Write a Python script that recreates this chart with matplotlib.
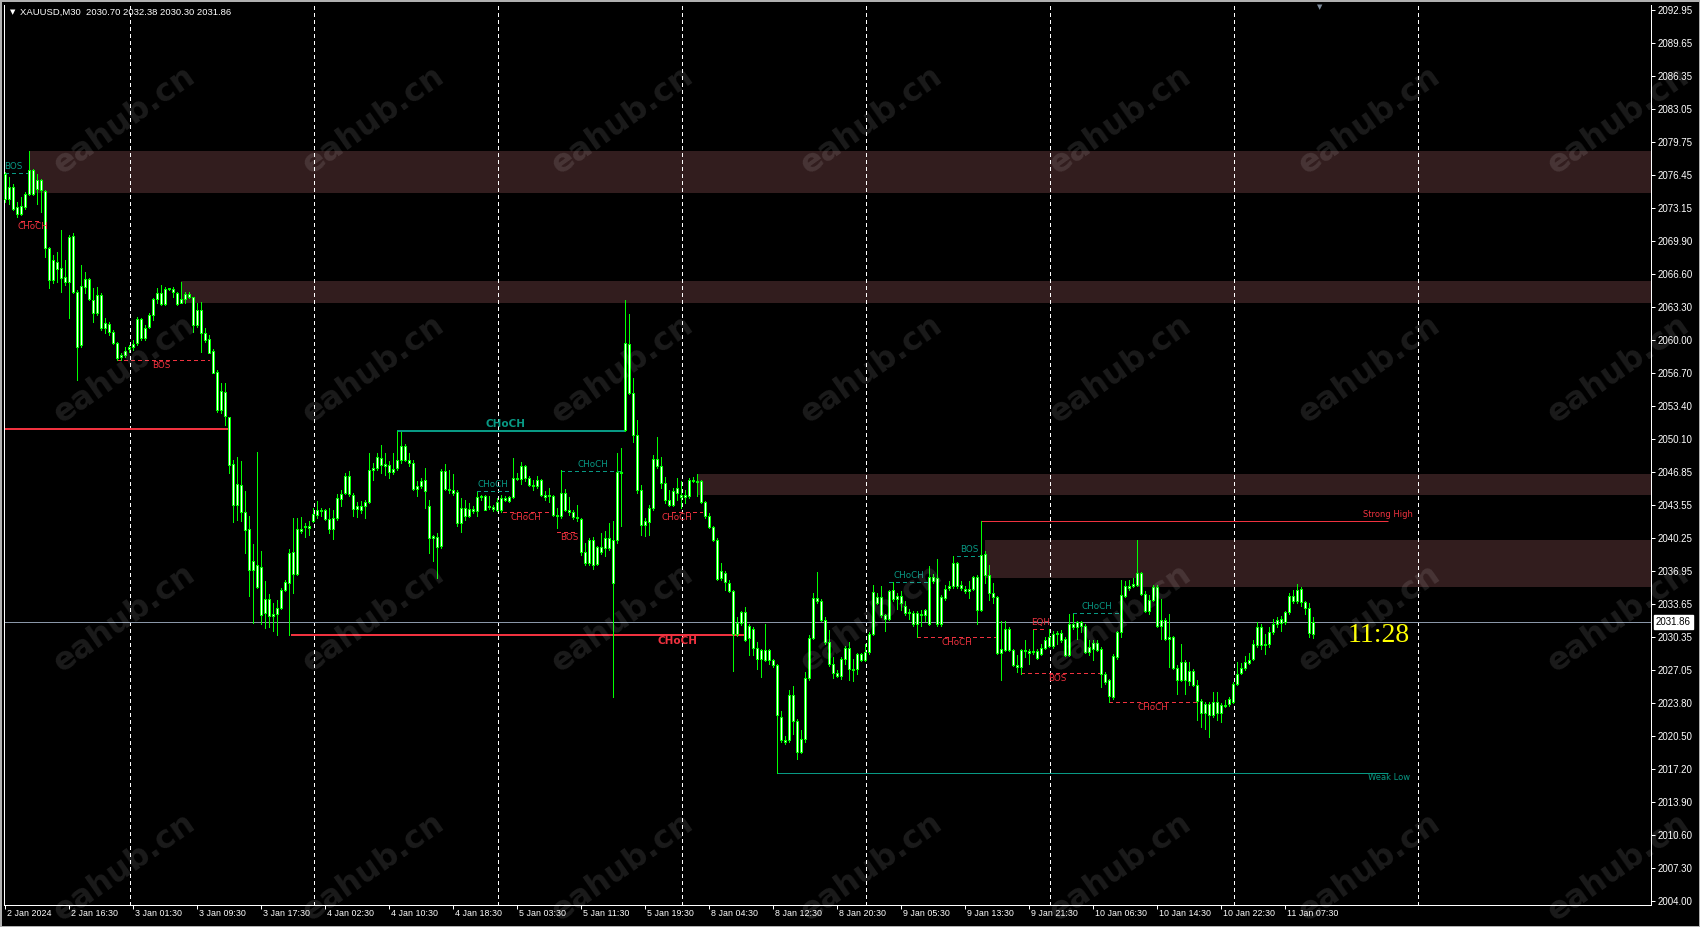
import numpy as np
import matplotlib
matplotlib.use("Agg")
import matplotlib.pyplot as plt
from matplotlib import font_manager
from matplotlib.patches import Rectangle
from matplotlib.transforms import blended_transform_factory

W, H, DPI = 1700, 927, 100

# XAUUSD M30 candles (bar 0 = 2 Jan 2024 08:30)
opens = [
    2074.1, 2075.3, 2075.3, 2073.3, 2072.6, 2073.3, 2074.6, 2077.0, 2075.1, 2076.0,
    2074.9, 2069.2, 2066.0, 2067.8, 2067.2, 2066.3, 2065.8, 2070.4, 2064.8, 2059.5,
    2065.3, 2066.1, 2064.0, 2062.7, 2064.5, 2061.7, 2061.6, 2060.8, 2059.7, 2058.3,
    2058.5, 2059.1, 2059.3, 2059.7, 2062.1, 2060.2, 2061.3, 2062.5, 2064.1, 2064.7,
    2063.6, 2065.1, 2065.1, 2064.7, 2063.7, 2064.1, 2064.6, 2064.3, 2061.5, 2063.0,
    2060.7, 2060.1, 2058.9, 2056.8, 2053.0, 2054.8, 2052.3, 2047.6, 2043.5, 2045.5,
    2042.8, 2041.1, 2037.0, 2037.5, 2037.3, 2032.8, 2034.1, 2032.5, 2032.7, 2033.3,
    2035.0, 2035.7, 2038.8, 2036.6, 2041.1, 2041.3, 2041.4, 2041.9, 2042.5, 2043.0,
    2043.0, 2042.1, 2041.1, 2042.2, 2044.1, 2044.7, 2046.4, 2044.5, 2043.1, 2043.4,
    2043.4, 2043.8, 2047.0, 2047.2, 2048.2, 2047.4, 2047.5, 2046.8, 2047.2, 2048.0,
    2049.4, 2048.0, 2047.7, 2045.1, 2045.4, 2046.0, 2043.4, 2040.2, 2040.3, 2039.4,
    2046.9, 2045.1, 2045.0, 2044.8, 2041.7, 2043.2, 2042.4, 2043.1, 2042.9, 2044.3,
    2044.4, 2043.3, 2043.3, 2043.0, 2043.0, 2044.0, 2044.3, 2044.3, 2046.2, 2046.1,
    2047.4, 2046.2, 2045.5, 2045.4, 2046.0, 2044.5, 2044.4, 2044.4, 2042.5, 2042.4,
    2044.7, 2043.0, 2042.8, 2042.3, 2042.1, 2038.8, 2037.7, 2040.0, 2037.6, 2039.3,
    2039.2, 2040.2, 2035.7, 2040.0, 2046.8, 2051.0, 2059.6, 2054.7, 2050.5, 2045.0,
    2041.5, 2041.8, 2043.2, 2048.1, 2047.4, 2045.7, 2044.0, 2043.5, 2044.7, 2044.5,
    2044.3, 2044.4, 2046.0, 2045.8, 2045.9, 2043.8, 2042.4, 2041.3, 2040.0, 2036.2,
    2036.7, 2035.7, 2034.9, 2030.7, 2031.8, 2032.9, 2030.3, 2031.2, 2029.3, 2028.2,
    2029.1, 2028.1, 2028.1, 2027.6, 2022.4, 2020.1, 2020.1, 2024.6, 2022.0, 2018.9,
    2020.2, 2026.3, 2030.3, 2034.2, 2033.9, 2032.1, 2029.9, 2027.7, 2026.8, 2026.5,
    2028.2, 2029.3, 2027.2, 2027.2, 2028.7, 2028.1, 2028.9, 2030.7, 2034.3, 2034.3,
    2032.6, 2032.2, 2035.0, 2034.1, 2034.4, 2033.5, 2032.8, 2032.8, 2031.7, 2032.7,
    2032.6, 2031.7, 2036.3, 2036.2, 2031.7, 2034.2, 2035.2, 2035.4, 2037.7, 2035.5,
    2035.1, 2034.9, 2035.1, 2036.3, 2033.1, 2038.6, 2036.5, 2034.7, 2034.3, 2028.8,
    2029.1, 2031.2, 2029.1, 2027.6, 2027.4, 2029.1, 2029.0, 2028.9, 2029.0, 2028.7,
    2029.3, 2030.4, 2029.5, 2030.7, 2030.8, 2030.2, 2028.6, 2031.7, 2031.4, 2031.9,
    2031.5, 2028.9, 2029.2, 2029.8, 2029.2, 2026.7, 2026.1, 2024.4, 2028.4, 2030.9,
    2034.4, 2035.2, 2035.4, 2035.5, 2036.7, 2034.6, 2033.0, 2034.0, 2035.3, 2031.5,
    2032.1, 2030.2, 2030.4, 2027.3, 2026.1, 2027.9, 2026.0, 2027.0, 2025.6, 2024.0,
    2022.8, 2023.7, 2022.6, 2023.9, 2022.8, 2023.6, 2023.7, 2023.9, 2025.7, 2026.8,
    2027.3, 2027.8, 2028.2, 2029.6, 2031.4, 2029.6, 2029.7, 2030.9, 2031.7, 2032.2,
    2031.9, 2032.9, 2034.4, 2033.9, 2035.1, 2033.8, 2033.3, 2030.70,
]
highs = [
    2076.8, 2076.3, 2075.6, 2073.8, 2074.3, 2074.8, 2078.9, 2077.1, 2076.6, 2076.1,
    2075.0, 2069.3, 2068.5, 2068.8, 2071.0, 2068.0, 2070.5, 2070.7, 2065.0, 2067.5,
    2066.8, 2066.2, 2065.2, 2065.3, 2064.7, 2062.2, 2061.8, 2061.0, 2059.8, 2058.7,
    2059.3, 2059.5, 2060.0, 2062.3, 2062.2, 2061.5, 2062.7, 2064.2, 2065.2, 2065.5,
    2065.3, 2065.2, 2065.3, 2064.8, 2065.8, 2064.8, 2064.8, 2064.3, 2063.7, 2063.8,
    2061.2, 2060.5, 2059.1, 2057.0, 2055.7, 2055.7, 2052.3, 2048.0, 2048.3, 2047.9,
    2044.9, 2042.4, 2039.6, 2048.8, 2038.9, 2035.9, 2034.6, 2033.7, 2034.0, 2035.2,
    2036.0, 2039.1, 2042.2, 2042.2, 2042.3, 2041.7, 2041.9, 2043.2, 2043.9, 2043.2,
    2043.1, 2043.2, 2043.0, 2044.6, 2045.0, 2046.7, 2046.9, 2044.7, 2043.8, 2043.9,
    2044.0, 2048.7, 2047.7, 2048.7, 2049.5, 2048.7, 2047.9, 2048.7, 2050.9, 2050.8,
    2049.6, 2048.7, 2048.0, 2045.9, 2046.2, 2047.2, 2044.0, 2040.5, 2040.7, 2047.1,
    2047.6, 2047.0, 2046.6, 2045.0, 2044.2, 2044.0, 2043.7, 2043.4, 2044.8, 2044.5,
    2044.5, 2044.4, 2043.5, 2044.2, 2044.5, 2044.4, 2044.4, 2048.2, 2046.7, 2047.8,
    2047.5, 2046.4, 2046.0, 2046.4, 2046.1, 2044.9, 2045.2, 2044.5, 2043.2, 2047.0,
    2045.1, 2044.3, 2043.0, 2043.5, 2042.2, 2039.7, 2040.2, 2040.3, 2039.4, 2040.7,
    2040.9, 2041.7, 2041.9, 2048.7, 2049.2, 2064.0, 2062.6, 2056.2, 2052.0, 2045.5,
    2042.2, 2043.5, 2048.5, 2050.3, 2048.3, 2046.3, 2045.0, 2045.2, 2046.2, 2045.9,
    2045.0, 2046.2, 2046.3, 2046.6, 2046.0, 2043.9, 2042.7, 2041.4, 2040.2, 2037.7,
    2036.9, 2036.0, 2035.0, 2032.4, 2033.0, 2033.4, 2031.7, 2031.4, 2029.9, 2029.2,
    2031.7, 2029.2, 2028.2, 2027.7, 2023.0, 2020.5, 2025.1, 2025.5, 2022.2, 2021.1,
    2026.9, 2030.6, 2034.7, 2036.8, 2034.1, 2032.4, 2031.1, 2028.4, 2027.1, 2028.4,
    2029.5, 2029.9, 2028.2, 2028.8, 2028.8, 2029.7, 2030.9, 2035.5, 2034.7, 2035.4,
    2032.7, 2035.0, 2035.8, 2034.7, 2034.9, 2033.9, 2033.2, 2033.0, 2033.0, 2033.1,
    2033.2, 2037.4, 2036.6, 2038.1, 2034.5, 2035.5, 2035.9, 2038.4, 2037.8, 2035.9,
    2035.4, 2035.9, 2036.4, 2036.5, 2041.9, 2038.9, 2037.5, 2035.7, 2034.4, 2032.0,
    2032.0, 2031.4, 2029.2, 2028.6, 2029.2, 2030.1, 2029.2, 2031.1, 2029.2, 2029.7,
    2030.4, 2031.2, 2031.0, 2031.0, 2031.1, 2030.4, 2032.7, 2032.7, 2032.0, 2032.0,
    2031.7, 2030.1, 2030.1, 2030.1, 2029.4, 2026.9, 2026.2, 2028.7, 2031.0, 2036.0,
    2035.9, 2036.0, 2036.2, 2040.0, 2036.8, 2034.9, 2034.5, 2035.5, 2035.5, 2034.1,
    2032.3, 2032.7, 2030.5, 2027.6, 2029.7, 2028.1, 2027.9, 2027.2, 2026.1, 2024.2,
    2023.9, 2023.9, 2024.9, 2024.9, 2023.8, 2024.1, 2024.4, 2025.9, 2027.9, 2027.8,
    2028.5, 2028.8, 2030.1, 2031.9, 2031.7, 2030.7, 2031.4, 2032.2, 2032.4, 2032.5,
    2033.0, 2034.7, 2035.0, 2035.6, 2035.3, 2033.9, 2033.7, 2032.38,
]
lows = [
    2073.8, 2073.6, 2073.0, 2072.3, 2072.5, 2073.1, 2074.5, 2074.5, 2073.6, 2072.8,
    2068.3, 2065.2, 2065.7, 2065.8, 2064.8, 2065.5, 2062.2, 2064.7, 2056.0, 2059.3,
    2064.7, 2064.0, 2061.8, 2062.5, 2061.0, 2060.7, 2060.5, 2059.6, 2058.0, 2058.0,
    2058.3, 2058.8, 2059.0, 2059.5, 2060.0, 2060.0, 2061.2, 2062.0, 2063.7, 2063.5,
    2063.5, 2065.0, 2064.3, 2063.5, 2063.7, 2063.7, 2064.2, 2060.8, 2061.3, 2058.8,
    2059.8, 2058.7, 2056.7, 2052.8, 2052.7, 2051.5, 2046.7, 2041.8, 2042.0, 2041.9,
    2038.7, 2034.4, 2031.8, 2035.2, 2031.7, 2031.3, 2031.4, 2031.0, 2030.6, 2033.2,
    2034.9, 2030.6, 2034.7, 2036.5, 2040.7, 2040.3, 2040.5, 2041.8, 2042.2, 2042.4,
    2042.0, 2040.7, 2040.1, 2042.0, 2043.4, 2044.6, 2044.4, 2042.4, 2042.3, 2042.7,
    2042.2, 2043.7, 2046.0, 2047.0, 2046.7, 2046.5, 2046.2, 2046.6, 2047.0, 2047.7,
    2047.9, 2047.4, 2045.0, 2044.4, 2045.2, 2043.2, 2038.7, 2037.9, 2036.2, 2039.2,
    2045.0, 2044.7, 2044.5, 2041.4, 2040.8, 2042.0, 2042.3, 2042.7, 2042.4, 2044.0,
    2043.0, 2043.1, 2042.9, 2042.9, 2042.8, 2043.9, 2043.8, 2044.2, 2046.0, 2045.6,
    2045.9, 2045.4, 2045.0, 2045.2, 2044.4, 2044.0, 2043.8, 2042.4, 2041.2, 2042.2,
    2042.9, 2042.5, 2042.1, 2041.9, 2038.5, 2037.5, 2037.5, 2037.1, 2037.5, 2038.6,
    2038.4, 2039.0, 2024.4, 2039.7, 2041.4, 2050.9, 2054.6, 2049.8, 2044.7, 2040.5,
    2040.4, 2040.5, 2043.0, 2047.2, 2045.2, 2043.7, 2043.4, 2043.4, 2044.0, 2043.2,
    2043.7, 2044.2, 2045.8, 2044.4, 2043.7, 2042.2, 2041.2, 2039.9, 2036.0, 2036.0,
    2035.0, 2034.8, 2027.0, 2030.5, 2031.6, 2030.0, 2028.6, 2028.6, 2027.2, 2026.4,
    2028.0, 2027.7, 2027.4, 2016.8, 2019.9, 2019.7, 2019.9, 2020.7, 2018.2, 2018.8,
    2019.9, 2026.1, 2030.2, 2033.7, 2032.0, 2029.7, 2027.5, 2026.3, 2026.4, 2026.2,
    2027.7, 2026.1, 2026.0, 2026.7, 2028.0, 2028.0, 2028.7, 2030.6, 2033.6, 2032.4,
    2031.0, 2032.1, 2033.9, 2033.2, 2033.1, 2032.6, 2032.2, 2031.5, 2030.4, 2031.5,
    2032.0, 2031.6, 2035.7, 2031.5, 2031.5, 2034.0, 2035.0, 2035.2, 2035.2, 2035.0,
    2034.7, 2034.2, 2035.0, 2031.7, 2033.0, 2035.7, 2034.0, 2033.7, 2028.7, 2026.1,
    2029.0, 2029.0, 2027.5, 2026.9, 2026.7, 2028.4, 2027.7, 2028.7, 2028.2, 2028.6,
    2029.2, 2029.4, 2029.3, 2029.7, 2029.9, 2028.5, 2028.5, 2031.2, 2030.2, 2030.9,
    2028.8, 2028.6, 2028.1, 2029.0, 2025.4, 2025.7, 2023.9, 2024.2, 2028.2, 2030.4,
    2034.3, 2035.0, 2035.3, 2035.4, 2034.5, 2032.9, 2032.7, 2033.9, 2031.4, 2030.2,
    2030.1, 2027.4, 2027.2, 2024.7, 2026.0, 2024.7, 2025.6, 2025.5, 2022.1, 2021.4,
    2021.2, 2020.4, 2022.4, 2022.1, 2021.9, 2023.4, 2023.5, 2023.8, 2025.6, 2026.7,
    2027.1, 2027.7, 2028.1, 2029.4, 2029.2, 2028.7, 2029.4, 2030.7, 2031.4, 2031.0,
    2031.7, 2032.7, 2033.7, 2033.7, 2033.5, 2032.7, 2030.4, 2030.30,
]
closes = [
    2076.6, 2074.1, 2073.1, 2072.6, 2073.4, 2074.6, 2077.0, 2074.6, 2076.0, 2075.0,
    2069.2, 2066.0, 2068.0, 2067.1, 2066.2, 2065.8, 2070.3, 2064.8, 2059.3, 2065.4,
    2066.1, 2064.1, 2062.7, 2064.5, 2061.2, 2061.2, 2060.8, 2059.7, 2058.2, 2058.5,
    2058.9, 2059.3, 2059.6, 2062.1, 2060.2, 2061.2, 2062.5, 2064.1, 2064.7, 2063.6,
    2065.1, 2065.2, 2064.8, 2063.6, 2064.1, 2064.6, 2064.3, 2061.5, 2063.0, 2060.7,
    2060.0, 2058.7, 2056.7, 2053.0, 2054.9, 2052.4, 2047.5, 2043.5, 2045.6, 2042.8,
    2041.0, 2037.0, 2037.9, 2035.3, 2032.6, 2034.1, 2032.5, 2032.7, 2033.3, 2035.0,
    2035.8, 2038.7, 2036.6, 2041.1, 2040.9, 2041.4, 2041.2, 2042.6, 2043.0, 2042.9,
    2042.1, 2041.1, 2042.2, 2044.2, 2044.6, 2046.4, 2044.6, 2043.1, 2043.4, 2043.0,
    2043.8, 2047.0, 2047.2, 2048.3, 2047.5, 2047.6, 2046.8, 2047.1, 2048.0, 2049.4,
    2048.0, 2047.7, 2045.1, 2045.4, 2045.9, 2044.9, 2040.2, 2040.4, 2039.3, 2046.9,
    2045.1, 2045.0, 2044.7, 2041.7, 2043.2, 2042.4, 2043.1, 2042.9, 2044.3, 2044.4,
    2043.0, 2043.4, 2043.1, 2043.8, 2044.2, 2044.2, 2043.9, 2046.2, 2046.1, 2047.4,
    2046.2, 2045.5, 2045.4, 2046.0, 2044.5, 2044.3, 2044.5, 2042.5, 2042.4, 2044.7,
    2043.0, 2042.8, 2042.3, 2042.2, 2038.8, 2037.7, 2040.0, 2037.5, 2039.3, 2038.8,
    2040.2, 2039.2, 2040.0, 2046.8, 2046.7, 2059.7, 2054.7, 2050.5, 2045.0, 2041.5,
    2041.9, 2043.2, 2048.1, 2047.4, 2045.7, 2044.0, 2043.5, 2044.9, 2045.2, 2044.3,
    2044.5, 2046.0, 2045.9, 2045.9, 2043.8, 2042.4, 2041.3, 2040.0, 2036.1, 2036.9,
    2035.8, 2034.9, 2030.7, 2031.8, 2032.9, 2030.1, 2031.5, 2029.3, 2028.2, 2029.1,
    2028.1, 2029.1, 2027.6, 2022.6, 2020.1, 2019.9, 2024.6, 2022.0, 2018.9, 2020.2,
    2026.3, 2030.3, 2034.2, 2033.9, 2032.1, 2029.9, 2027.7, 2026.8, 2026.5, 2028.2,
    2029.3, 2027.2, 2027.1, 2028.7, 2028.1, 2028.9, 2030.7, 2034.8, 2033.7, 2032.6,
    2032.2, 2034.9, 2034.1, 2034.4, 2033.7, 2032.8, 2032.9, 2031.7, 2032.8, 2032.6,
    2033.1, 2036.3, 2035.9, 2031.7, 2034.3, 2035.1, 2035.4, 2037.7, 2035.4, 2035.2,
    2034.9, 2035.1, 2036.3, 2033.1, 2038.5, 2036.5, 2034.7, 2034.3, 2028.8, 2029.2,
    2031.2, 2029.1, 2027.6, 2027.4, 2029.1, 2029.0, 2028.8, 2029.0, 2028.3, 2029.3,
    2030.1, 2029.5, 2030.7, 2030.8, 2030.1, 2028.6, 2031.7, 2031.4, 2031.9, 2031.5,
    2028.9, 2029.4, 2029.8, 2029.1, 2026.7, 2025.9, 2024.5, 2028.5, 2030.9, 2034.5,
    2035.4, 2035.4, 2035.6, 2036.7, 2034.6, 2033.0, 2034.0, 2035.3, 2031.5, 2032.1,
    2030.2, 2030.4, 2027.3, 2026.1, 2027.9, 2026.1, 2027.0, 2025.6, 2024.0, 2022.8,
    2023.7, 2022.6, 2023.9, 2022.8, 2023.6, 2023.5, 2024.2, 2025.7, 2026.7, 2027.3,
    2027.9, 2028.1, 2029.7, 2031.4, 2029.6, 2029.7, 2030.9, 2031.7, 2032.1, 2031.8,
    2032.9, 2034.4, 2033.9, 2035.0, 2033.8, 2033.3, 2030.8, 2031.86,
]

price_ticks = [2092.95, 2089.65, 2086.35, 2083.05, 2079.75, 2076.45, 2073.15,
               2069.90, 2066.60, 2063.30, 2060.00, 2056.70, 2053.40, 2050.10,
               2046.85, 2043.55, 2040.25, 2036.95, 2033.65, 2030.35, 2027.05,
               2023.80, 2020.50, 2017.20, 2013.90, 2010.60, 2007.30, 2004.00]
time_labels = ["2 Jan 2024", "2 Jan 16:30", "3 Jan 01:30", "3 Jan 09:30", "3 Jan 17:30",
               "4 Jan 02:30", "4 Jan 10:30", "4 Jan 18:30", "5 Jan 03:30", "5 Jan 11:30",
               "5 Jan 19:30", "8 Jan 04:30", "8 Jan 12:30", "8 Jan 20:30", "9 Jan 05:30",
               "9 Jan 13:30", "9 Jan 21:30", "10 Jan 06:30", "10 Jan 14:30", "10 Jan 22:30",
               "11 Jan 07:30"]
time_label_bars = [0, 16, 32, 48, 64, 80, 96, 112, 128, 144, 160, 176, 192, 208,
                   224, 240, 256, 272, 288, 304, 320]
grid_bars = [31.25, 77.25, 123.25, 169.25, 215.25, 261.25, 307.25, 353.25]

# supply / order-block zones (start bar, low, high), extended to the right edge
zone_start = [6, 44, 173, 245, 283]
zone_low = [2074.70, 2063.72, 2044.53, 2036.27, 2035.37]
zone_high = [2078.86, 2065.88, 2046.62, 2040.03, 2040.03]

# structure levels: BOS / CHoCH / EQH
lvl_start = [0, 4, 28, 98, 118, 124.6, 138, 139, 166.7, 71.4, 221, 238, 228, 257, 254, 267, 276, 0]
lvl_end = [6, 9, 51, 155, 126.25, 137, 143, 154.6, 174.2, 185, 231, 243.75, 247.75, 260.6, 274.2, 278.3, 298.75, 56]
lvl_price = [2076.63, 2071.88, 2058.00, 2050.91, 2044.92, 2042.79, 2040.80, 2046.95, 2042.80,
             2030.56, 2035.81, 2038.47, 2030.32, 2031.12, 2026.73, 2032.71, 2023.83, 2051.10]
lvl_text = ["BOS", "CHoCH", "BOS", "CHoCH", "CHoCH", "CHoCH", "BOS", "CHoCH", "CHoCH",
            "CHoCH", "CHoCH", "BOS", "CHoCH", "EQH", "BOS", "CHoCH", "CHoCH", ""]
lvl_bull = [True, False, False, True, True, False, False, True, False,
            False, True, True, False, False, False, True, False, False]
lvl_major = [False, False, False, True, False, False, False, False, False,
             True, False, False, False, False, False, False, False, True]
lvl_label_x = [2, 7, 39.2, 125, 122, 130.25, 141, 147.1, 168.1,
               168, 226.1, 241, 238.1, 259.0, 263.2, 272.9, 287.1, 0]

strong_high, weak_low = 2041.93, 2016.75
strong_start, weak_start, swing_end = 244, 193, 345.8
last_price = 2031.86

GREEN = "#00ff00"
RED = "#f0323f"
TEAL = "#089984"
ZONE = "#321d1e"

names = {f.name for f in font_manager.fontManager.ttflist}
AXFONT = "Liberation Sans" if "Liberation Sans" in names else "DejaVu Sans"
SERIF = "Liberation Serif" if "Liberation Serif" in names else "DejaVu Serif"


def pt(px):
    return px * 72.0 / DPI


fig = plt.figure(figsize=(W / DPI, H / DPI), dpi=DPI, facecolor="black")
ax = fig.add_axes([4 / W, 22 / H, 1647 / W, 900 / H], facecolor="black")
xmin, xmax = -0.25, 411.5
ax.set_xlim(xmin, xmax)
ax.set_ylim(2003.61, 2093.43)

for s in ["left", "bottom", "right"]:
    ax.spines[s].set_color("white")
    ax.spines[s].set_linewidth(pt(1))
ax.spines["top"].set_visible(False)

# zones
for x0, lo, hi in zip(zone_start, zone_low, zone_high):
    ax.add_patch(Rectangle((x0, lo), xmax - x0, hi - lo, facecolor=ZONE,
                           edgecolor="none", zorder=0.5))

# vertical dashed grid
for gx in grid_bars:
    ax.axvline(gx, color="white", lw=pt(1), ls=(0, (4, 3)), zorder=1, antialiased=False)

# current price line
ax.axhline(last_price, color="#8a97a8", lw=pt(1), zorder=1.5, antialiased=False)

# structure lines + labels
for x0, x1, lv, txt, bull, major, lx in zip(lvl_start, lvl_end, lvl_price, lvl_text,
                                           lvl_bull, lvl_major, lvl_label_x):
    col = TEAL if bull else RED
    ax.hlines(lv, x0, x1, colors=col, lw=pt(2) if major else pt(1),
              linestyles="solid" if major else (0, (4, 3)), zorder=2, antialiased=False)
    if not txt:
        continue
    above = bull or txt == "EQH"
    ax.annotate(txt, xy=(lx, lv), xytext=(0, pt(2) if above else -pt(1)),
                textcoords="offset points", ha="center",
                va="bottom" if above else "top", color=col,
                fontsize=7.5 if major else 6.3,
                fontweight="bold" if major else "normal", zorder=5)

ax.hlines(strong_high, strong_start, swing_end, colors=RED, lw=pt(1), zorder=2)
ax.hlines(weak_low, weak_start, swing_end, colors=TEAL, lw=pt(1), zorder=2)
ax.annotate("Strong High", xy=(352, strong_high), xytext=(0, pt(2)),
            textcoords="offset points", ha="right", va="bottom", color=RED, fontsize=6)
ax.annotate("Weak Low", xy=(351.25, weak_low), xytext=(0, -pt(4)),
            textcoords="offset points", ha="right", va="center", color=TEAL, fontsize=6)

# candles
idx = np.arange(len(closes))
o = np.array(opens)
c = np.array(closes)
body_lo = np.minimum(o, c)
body_hi = np.maximum(o, c)
ax.vlines(idx, lows, highs, colors=GREEN, lw=pt(1), zorder=3, antialiased=False)
ax.bar(idx, body_hi - body_lo, bottom=body_lo, width=0.5, color="white",
       edgecolor=GREEN, linewidth=pt(1), zorder=4, antialiased=False)

# clock
ax.text(351.25, 2030.46, "11:28", color="#ffff00", fontsize=20, family=SERIF,
        ha="right", va="center", zorder=5)

# price axis (right)
ax.yaxis.tick_right()
ax.set_yticks(price_ticks)
ax.set_yticklabels([f"{p:.2f}" for p in price_ticks], fontfamily=AXFONT)
ax.tick_params(axis="y", colors="white", labelcolor="white", labelsize=7,
               length=pt(4), width=pt(1), pad=pt(3))
ax.annotate(f"{last_price:.2f}", xy=(1, last_price),
            xycoords=blended_transform_factory(ax.transAxes, ax.transData),
            xytext=(pt(5), 0), textcoords="offset points", ha="left", va="center",
            color="black", fontsize=7, family=AXFONT,
            bbox=dict(boxstyle="square,pad=0.18", fc="white", ec="white"),
            annotation_clip=False, zorder=6)

# time axis (bottom)
ax.set_xticks(time_label_bars)
ax.set_xticklabels([])
ax.tick_params(axis="x", colors="white", length=pt(4), width=pt(1))
tx = blended_transform_factory(ax.transData, ax.transAxes)
for b, lab in zip(time_label_bars, time_labels):
    ax.annotate(lab, xy=(b, 0), xycoords=tx, xytext=(pt(2), -pt(4)),
                textcoords="offset points", ha="left", va="top", color="white",
                fontsize=6.4, family=AXFONT, annotation_clip=False)

# header
fig.text(12.5 / W, 1 - 12 / H, "\u25bc", color="white", fontsize=5, ha="center", va="center")
fig.text(20 / W, 1 - 12.5 / H, "XAUUSD,M30  2030.70 2032.38 2030.30 2031.86",
         color="white", fontsize=6.8, family=AXFONT, ha="left", va="center")
fig.text(1320 / W, 1 - 7 / H, "\u25bc", color="#7d8a9a", fontsize=5, ha="center", va="center")

# watermark
for r in range(4):
    for k in range(7):
        fig.text((125 + 249 * k) / W, 1 - (121 + 249 * r) / H, "eahub.cn",
                 rotation=35, rotation_mode="anchor", ha="center", va="center",
                 fontsize=23, fontweight="bold", color="white", alpha=0.11, zorder=10)

fig.add_artist(Rectangle((0, 0), 1, 1, transform=fig.transFigure, fill=False,
                         edgecolor="#b0b0b0", lw=pt(3)))

fig.savefig("out.png", dpi=DPI, facecolor="black")
